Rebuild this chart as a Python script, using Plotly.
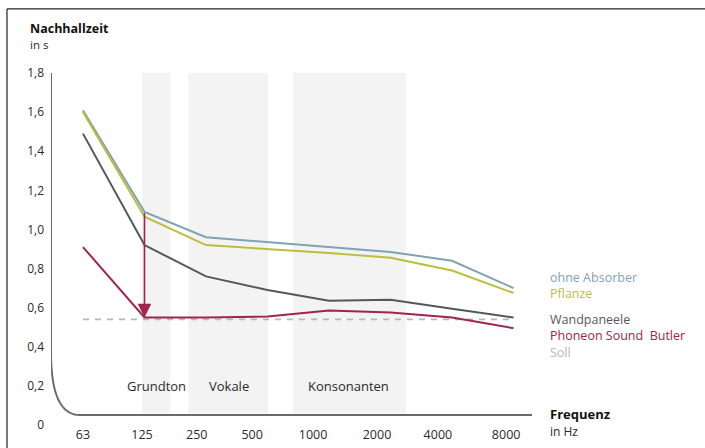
import plotly.graph_objects as go

freq_labels = ["63", "125", "250", "500", "1000", "2000", "4000", "8000"]
x_idx = list(range(len(freq_labels)))

ohne_absorber = [1.61, 1.09, 0.96, 0.935, 0.91, 0.885, 0.84, 0.70]
pflanze = [1.60, 1.065, 0.92, 0.90, 0.88, 0.855, 0.79, 0.675]
wandpaneele = [1.49, 0.92, 0.76, 0.69, 0.635, 0.64, 0.595, 0.55]
phoneon = [0.91, 0.55, 0.55, 0.555, 0.585, 0.575, 0.55, 0.495]
soll = [0.54, 0.54, 0.54, 0.54, 0.54, 0.54, 0.54, 0.54]

series_names = ["ohne Absorber", "Pflanze", "Wandpaneele", "Phoneon Sound  Butler", "Soll"]
series_values = [ohne_absorber, pflanze, wandpaneele, phoneon, soll]
series_colors = ["#7fa3b3", "#bcbd3c", "#55575f", "#a0244c", "#b8b8b8"]

bands = [(0.96, 1.42, "Grundton", 1.19), (1.71, 3.01, "Vokale", 2.37), (3.41, 5.25, "Konsonanten", 4.31)]

y_ticks = [0, 0.2, 0.4, 0.6, 0.8, 1.0, 1.2, 1.4, 1.6, 1.8]
y_ticktext = ["0", "0,2", "0,4", "0,6", "0,8", "1,0", "1,2", "1,4", "1,6", "1,8"]

FONT = "Open Sans, DejaVu Sans, sans-serif"
TXT = "#2a2a2a"

# the printed labels in the original sit slightly left of the measured points
label_shift = [0, -0.04, -0.15, -0.25, -0.26, -0.22, -0.23, -0.12]
tick_pos = [i + s for i, s in zip(x_idx, label_shift)]

fig = go.Figure()

fig.add_trace(go.Scatter(x=x_idx, y=soll, mode="lines",
                         line=dict(color=series_colors[4], width=1.6, dash="6px,6px"),
                         hoverinfo="skip", showlegend=False))
for name, vals, col in zip(series_names[:4], series_values[:4], series_colors[:4]):
    fig.add_trace(go.Scatter(x=x_idx, y=vals, mode="lines", name=name,
                             line=dict(color=col, width=2), showlegend=False))

shapes = []
for x0, x1, _, _ in bands:
    shapes.append(dict(type="rect", xref="x", yref="y", x0=x0, x1=x1, y0=0.06, y1=1.815,
                       fillcolor="#f3f3f3", line=dict(width=0), layer="below"))
shapes.append(dict(type="path", xref="x", yref="y",
                   path="M -0.52,1.805 L -0.52,0.37 Q -0.52,0.051 -0.05,0.051 L 7.3,0.051",
                   line=dict(color="#6a6a6a", width=2)))
shapes.append(dict(type="line", xref="paper", yref="paper", x0=-0.09, x1=1.35, y0=1.182, y1=1.182,
                   line=dict(color="#222", width=1.2)))
shapes.append(dict(type="line", xref="paper", yref="paper", x0=-0.09, x1=-0.09, y0=1.182, y1=-0.1,
                   line=dict(color="#222", width=1.2)))

annotations = []
for _, _, label, cx in bands:
    annotations.append(dict(x=cx, y=0.2, xref="x", yref="y", text=label, showarrow=False,
                            font=dict(size=13, color=TXT, family=FONT)))
annotations.append(dict(x=1, y=phoneon[1], xref="x", yref="y", ax=1, ay=ohne_absorber[1],
                        axref="x", ayref="y", text="", showarrow=True, arrowhead=2,
                        arrowsize=1.7, arrowwidth=1.6, arrowcolor=series_colors[3], standoff=0))

groups = [(0, 2, 0.395), (2, 5, 0.253)]
for a, b, gy in groups:
    lines = [f"<span style='color:{c}'>{n}</span>" for n, c in zip(series_names[a:b], series_colors[a:b])]
    annotations.append(dict(x=1.016, y=gy, xref="paper", yref="paper", text="<br>".join(lines),
                            showarrow=False, xanchor="left", yanchor="middle", align="left",
                            font=dict(size=12.5, family=FONT)))

annotations += [
    dict(x=1.016, y=0.006, xref="paper", yref="paper",
         text="<b>Frequenz</b><br><span style='font-size:12px;color:#2a2a2a'>in Hz</span>",
         showarrow=False, xanchor="left", yanchor="middle", align="left",
         font=dict(size=13, color="#111", family=FONT)),
    dict(x=-0.047, y=1.104, xref="paper", yref="paper",
         text="<b>Nachhallzeit</b><br><span style='font-size:11.5px;color:#2a2a2a'>in s</span>",
         showarrow=False, xanchor="left", yanchor="middle", align="left",
         font=dict(size=12.5, color="#111", family=FONT)),
]

fig.update_layout(
    width=705, height=448,
    margin=dict(l=51, r=165, t=73, b=23, autoexpand=False),
    paper_bgcolor="white", plot_bgcolor="white",
    showlegend=False,
    shapes=shapes, annotations=annotations,
    xaxis=dict(range=[-0.52, 7.43], tickmode="array", tickvals=tick_pos, ticktext=freq_labels,
               showgrid=False, zeroline=False, showline=False, ticks="", automargin=False,
               tickfont=dict(size=12.5, color=TXT, family=FONT), ticklabelstandoff=0),
    yaxis=dict(range=[0, 1.8], tickmode="array", tickvals=y_ticks, ticktext=y_ticktext,
               showgrid=False, zeroline=False, showline=False, ticks="", automargin=False,
               tickfont=dict(size=12, color=TXT, family=FONT), ticklabelstandoff=6),
)

fig.write_html("out.html", config={"displayModeBar": False},
               post_script="document.body.style.margin='0';document.body.style.overflow='hidden';")
